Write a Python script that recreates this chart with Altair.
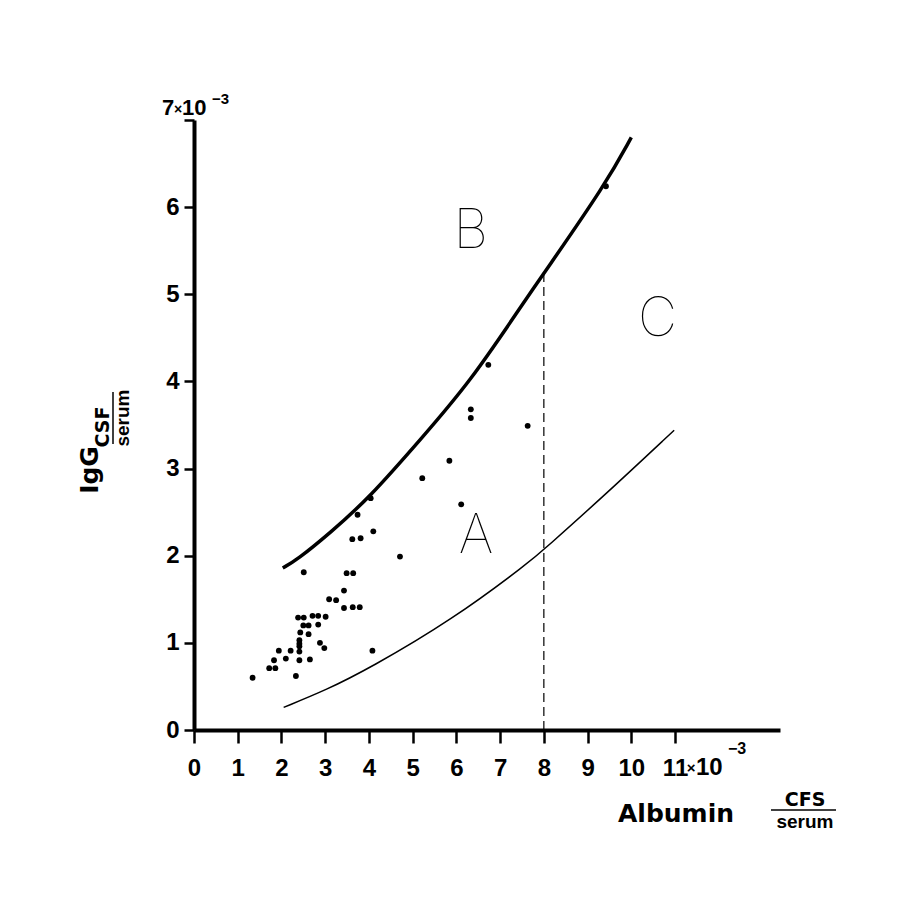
import altair as alt
import pandas as pd

# ---- data (units of 10^-3) ----
dots_x = [1.34, 1.72, 1.86, 1.83, 1.94, 2.10, 2.21, 2.33, 2.41, 2.41, 2.41, 2.41, 2.41,
          2.43, 2.38, 2.51, 2.50, 2.62, 2.62, 2.65, 2.71, 2.84, 2.84, 2.88, 2.98, 3.01,
          2.51, 3.09, 3.25, 3.43, 3.43, 3.63, 3.79, 3.49, 3.64, 3.62, 3.81, 3.74, 4.04,
          4.10, 4.08, 4.71, 5.22, 5.84, 6.11, 6.33, 6.33, 6.73, 7.63, 9.42]
dots_y = [0.60, 0.71, 0.71, 0.80, 0.91, 0.82, 0.91, 0.62, 0.80, 0.90, 0.96, 0.99, 1.03,
          1.12, 1.29, 1.29, 1.20, 1.20, 1.10, 0.81, 1.31, 1.31, 1.21, 1.00, 0.94, 1.30,
          1.81, 1.50, 1.49, 1.60, 1.40, 1.41, 1.41, 1.80, 1.80, 2.19, 2.20, 2.47, 2.66,
          2.28, 0.91, 1.99, 2.89, 3.09, 2.59, 3.68, 3.58, 4.19, 3.49, 6.24]

upper_x = [2.03, 2.35, 3.11, 4.02, 5.17, 6.31, 7.57, 8.00, 9.42, 10.0]
upper_y = [1.86, 1.95, 2.26, 2.67, 3.33, 3.99, 4.93, 5.24, 6.27, 6.80]

lower_x = [2.05, 3.03, 4.02, 5.89, 7.68, 8.02, 9.36, 10.98]
lower_y = [0.26, 0.46, 0.71, 1.26, 1.93, 2.08, 2.68, 3.44]

cut_x = [8.0]
cut_top = [5.24]

region_letters = ["A", "B", "C"]
region_x = [6.45, 6.33, 10.6]
region_y = [2.22, 5.71, 4.71]

x_ticks = list(range(0, 12))
y_ticks = list(range(0, 8))

X_DOMAIN = [0, 13.4]
Y_DOMAIN = [0, 7]

FONT = "Liberation Sans"
WIDE = "DejaVu Sans"

xs = alt.Scale(domain=X_DOMAIN, nice=False, zero=False)
ys = alt.Scale(domain=Y_DOMAIN, nice=False, zero=False)

x_axis = alt.Axis(values=x_ticks, title=None, grid=False, domainWidth=4, domainColor="black",
                  tickColor="black", tickWidth=2.5, tickSize=13, labelFont=FONT,
                  labelFontWeight="bold", labelFontSize=24, labelColor="black",
                  labelPadding=13, labelFlush=False, format="d")
y_axis = alt.Axis(values=y_ticks, title=None, grid=False, domainWidth=4, domainColor="black",
                  tickColor="black", tickWidth=2.5, tickSize=10, labelFont=FONT,
                  labelFontWeight="bold", labelFontSize=24, labelColor="black",
                  labelPadding=5, labelExpr="datum.value == 7 ? '' : datum.label",
                  labelBaseline="middle", labelFlush=False, format="d")

dots_df = pd.DataFrame({"x": dots_x, "y": dots_y})
upper_df = pd.DataFrame({"x": upper_x, "y": upper_y})
lower_df = pd.DataFrame({"x": lower_x, "y": lower_y})
cut_df = pd.DataFrame({"x": cut_x, "y": [0.0], "y2": cut_top})
letters_df = pd.DataFrame({"t": region_letters, "x": region_x, "y": region_y})

base_axes = alt.Chart(dots_df).mark_point(opacity=0).encode(
    x=alt.X("x:Q", scale=xs, axis=x_axis),
    y=alt.Y("y:Q", scale=ys, axis=y_axis),
)

dots = alt.Chart(dots_df).mark_circle(size=34, color="black", opacity=1).encode(
    x=alt.X("x:Q", scale=xs), y=alt.Y("y:Q", scale=ys))

upper = alt.Chart(upper_df).mark_line(color="black", strokeWidth=3.5, interpolate="basis").encode(
    x=alt.X("x:Q", scale=xs), y=alt.Y("y:Q", scale=ys))

lower = alt.Chart(lower_df).mark_line(color="black", strokeWidth=1.5, interpolate="basis").encode(
    x=alt.X("x:Q", scale=xs), y=alt.Y("y:Q", scale=ys))

cut = alt.Chart(cut_df).mark_rule(color="black", strokeWidth=1.2, strokeDash=[9, 5]).encode(
    x=alt.X("x:Q", scale=xs), y=alt.Y("y:Q", scale=ys), y2="y2:Q")

letters = alt.Chart(letters_df).mark_text(font="Inter", fontWeight=100, fontSize=54,
                                          color="black", baseline="middle", align="center").encode(
    x=alt.X("x:Q", scale=xs), y=alt.Y("y:Q", scale=ys), text="t:N")


def label(text, px, py, size, weight="bold", angle=0, align="left", baseline="alphabetic", font=FONT):
    return alt.Chart(pd.DataFrame({"t": [text]})).mark_text(
        font=font, fontSize=size, fontWeight=weight, angle=angle, align=align,
        baseline=baseline, color="black").encode(
        x=alt.value(px), y=alt.value(py), text="t:N")


def hline(px1, px2, py, w=1.5, color="black"):
    return alt.Chart(pd.DataFrame({"a": [0]})).mark_rule(color=color, strokeWidth=w).encode(
        x=alt.value(px1), x2=alt.value(px2), y=alt.value(py))


def vline(px, py1, py2, w=1.5, color="black"):
    return alt.Chart(pd.DataFrame({"a": [0]})).mark_rule(color=color, strokeWidth=w).encode(
        x=alt.value(px), y=alt.value(py1), y2=alt.value(py2))


annotations = [
    # x-axis exponent after the 11 label
    label("×", 497, 653, 15, align="center"),
    label("10", 502, 655, 24),
    label("−3", 534, 634, 16),
    # x-axis title
    label("Albumin", 424, 702, 25, font=WIDE),
    label("CFS", 611, 686, 19, align="center", font=WIDE),
    hline(577, 642, 690),
    label("serum", 611, 708, 19, align="center"),
    # y-axis exponent at the top
    label("7", -32, -5, 22),
    label("×", -16, -6, 14, align="center"),
    label("10", -12, -5, 22),
    label("−3", 18, -16, 15),
    # y-axis title (rotated)
    label("IgG", -104, 350, 25, angle=270, align="center", baseline="middle", font=WIDE),
    label("CSF", -91, 307, 19, angle=270, align="center", baseline="middle", font=WIDE),
    vline(-81, 272, 324),
    label("serum", -71, 298, 19, angle=270, align="center", baseline="middle"),
]

chart = alt.layer(base_axes, lower, upper, cut, dots, letters, *annotations).properties(
    width=586, height=610,
    padding={"left": 186, "top": 112, "right": 120, "bottom": 169},
    autosize=alt.AutoSizeParams(type="none"),
    background="white",
).configure_view(strokeWidth=0, stroke="transparent")

chart.save("out.html", embed_options={"renderer": "svg", "actions": False})
